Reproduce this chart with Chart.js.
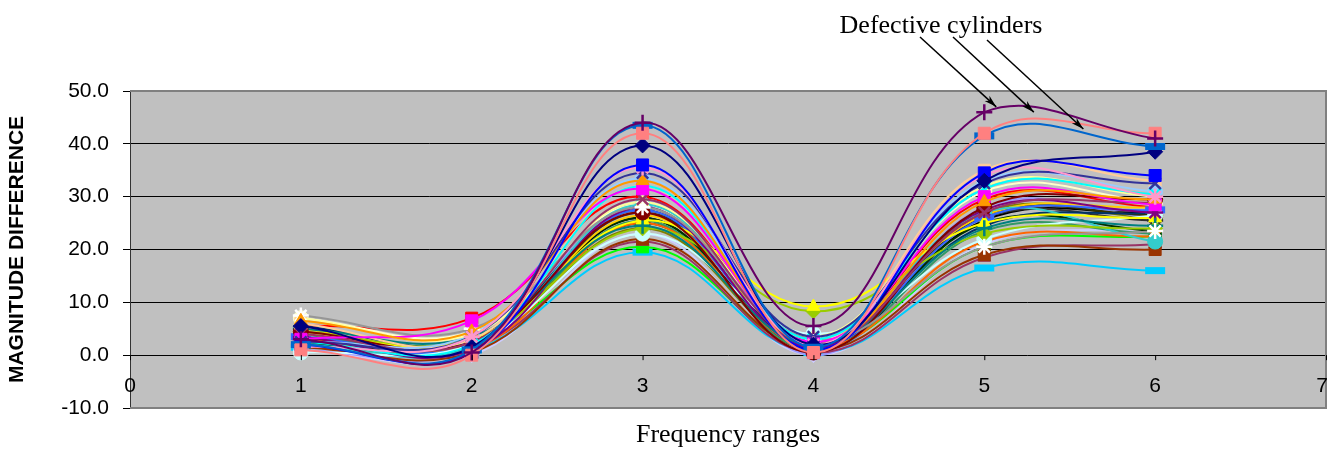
<!DOCTYPE html>
<html>
<head>
<meta charset="utf-8">
<script src="https://cdn.jsdelivr.net/npm/chart.js@4/dist/chart.umd.min.js"></script>
<style>
  html, body { margin: 0; padding: 0; background: #fff; }
  #wrap { width: 1335px; height: 451px; }
</style>
</head>
<body>
<div id="wrap"><canvas id="chart" width="1335" height="451"></canvas></div>
<script>
const xValues = [1, 2, 3, 4, 5, 6]
const xTickLabels = ['0', '1', '2', '3', '4', '5', '6', '7']
const yTicks = [-10, 0, 10, 20, 30, 40, 50]

// one row per cylinder, magnitude difference at frequency ranges 1..6
const seriesValues = [
  [3.0, 0.5, 44.0, 5.5, 46.0, 41.0],
  [1.0, 0.0, 42.0, 0.5, 42.0, 42.0],
  [2.0, 1.0, 43.5, 1.5, 41.5, 39.5],
  [5.5, 1.5, 39.7, 2.0, 33.0, 38.5],
  [2.0, 0.5, 36.0, 1.0, 34.5, 34.0],
  [1.5, 3.5, 35.5, 2.0, 34.0, 30.0],
  [2.5, 3.5, 34.5, 3.5, 32.5, 32.5],
  [6.5, 4.5, 33.0, 2.0, 29.0, 29.5],
  [3.0, 6.5, 31.5, 2.5, 30.0, 28.5],
  [2.5, 2.0, 32.0, 3.0, 31.5, 30.5],
  [4.0, 2.5, 29.5, 2.0, 27.0, 29.0],
  [7.5, 5.0, 28.0, 3.0, 20.5, 23.5],
  [7.0, 4.0, 29.0, 3.5, 32.0, 30.0],
  [2.5, 4.0, 33.5, 3.0, 33.0, 31.0],
  [6.0, 3.0, 32.0, 2.5, 35.0, 33.0],
  [4.5, 2.5, 27.0, 0.5, 28.0, 29.5],
  [5.0, 3.5, 24.5, 2.0, 24.0, 24.5],
  [3.5, 1.0, 28.0, 1.5, 27.5, 27.0],
  [4.0, 3.0, 25.5, 9.2, 25.0, 26.0],
  [4.5, 3.0, 24.0, 8.3, 23.0, 24.0],
  [0.5, 2.0, 23.0, 4.0, 22.0, 26.5],
  [3.5, 2.0, 27.5, 1.5, 26.0, 27.5],
  [2.0, 1.5, 28.5, 2.5, 27.0, 21.5],
  [5.0, 2.0, 26.5, 3.0, 26.5, 28.0],
  [3.0, 1.0, 25.0, 1.5, 21.5, 22.5],
  [5.5, 3.0, 27.5, 2.0, 24.5, 27.0],
  [4.0, 1.5, 25.5, 1.0, 23.5, 23.0],
  [2.0, 2.5, 26.0, 1.5, 25.0, 23.5],
  [3.0, 2.0, 25.0, 3.0, 26.5, 26.5],
  [1.5, 0.5, 22.0, 1.0, 19.0, 20.0],
  [4.5, 1.5, 21.5, 0.5, 18.5, 21.0],
  [3.0, 2.0, 27.0, 2.5, 26.0, 25.5],
  [1.0, 1.0, 29.5, 0.0, 28.0, 26.0],
  [7.0, 4.5, 28.5, 3.0, 31.0, 29.0],
  [3.0, 2.5, 20.5, 1.5, 20.5, 22.5],
  [5.5, 7.0, 30.0, 2.5, 29.5, 28.0],
  [1.5, 1.0, 19.5, 0.5, 16.5, 16.0],
  [1.0, 0.0, 23.0, 0.0, 21.0, 24.0],
  [2.5, 1.5, 26.0, 1.0, 25.5, 27.0],
  [4.0, 2.0, 24.0, 2.0, 27.0, 26.0]
]

const seriesColors = [
  '#660066', '#FF8080', '#0066CC', '#000080', '#0000FF', '#FF99CC', '#333399', '#FF9900',
  '#FF00FF', '#00FFFF', '#993366', '#969696', '#FFFF99', '#99CCFF', '#FFCC99', '#800000',
  '#008080', '#800080', '#FFFF00', '#99CC00', '#CCFFFF', '#3366FF', '#33CCCC', '#FFCC00',
  '#FF6600', '#003366', '#339966', '#003300', '#333300', '#993300', '#993366', '#333333',
  '#9999FF', '#FFFFCC', '#00FF00', '#FF0000', '#00CCFF', '#CCCCFF', '#000000', '#808000'
]

const seriesMarkers = [
  'cross', 'rect', 'line', 'rectRot', 'rect', 'star', 'crossRot', 'triangle',
  'rect', 'crossRot', 'crossRot', 'star', 'triangle', 'circle', 'rect', 'circle',
  'cross', 'star', 'triangle', 'rectRot', 'circle', 'line', 'circle', 'rect',
  'crossRot', 'rectRot', 'triangle', 'rect', 'circle', 'rect', 'triangle', 'star',
  'triangle', 'circle', 'rect', 'rect', 'line', 'rectRot', 'triangle', 'circle'
]

// marks each arrow points at, in data units
const arrowTargets = [[5.07, 47.0], [5.29, 46.0], [5.58, 42.8]]

function markerSize(style) {
  if (style === 'line') return { r: 10, w: 7 }
  if (style === 'cross' || style === 'crossRot' || style === 'star') return { r: 8, w: 2.5 }
  if (style === 'rect') return { r: 8.5, w: 1 }
  return { r: 7.5, w: 1 }
}

const datasets = seriesValues.map((vals, i) => {
  const style = seriesMarkers[i]
  const size = markerSize(style)
  const color = seriesColors[i]
  return {
    data: vals.map((v, j) => ({ x: xValues[j], y: v })),
    borderColor: color,
    backgroundColor: color,
    pointBorderColor: color === '#969696' ? '#FFFFFF' : color,
    pointBackgroundColor: color,
    pointStyle: style,
    pointRadius: size.r,
    pointBorderWidth: size.w,
    borderWidth: 2,
    tension: 0.4,
    fill: false
  }
})

const plotFrame = {
  id: 'plotFrame',
  beforeDraw(chart) {
    const { ctx, chartArea: a } = chart
    ctx.save()
    ctx.fillStyle = '#C0C0C0'
    ctx.fillRect(a.left, a.top, a.right - a.left, a.bottom - a.top)
    ctx.restore()
  },
  afterDraw(chart) {
    const { ctx, chartArea: a, scales } = chart
    const x = scales.x, y = scales.y
    ctx.save()
    // gray frame on top, right and bottom
    ctx.strokeStyle = '#808080'
    ctx.lineWidth = 2
    ctx.beginPath()
    ctx.moveTo(a.left, a.top)
    ctx.lineTo(a.right, a.top)
    ctx.lineTo(a.right, a.bottom)
    ctx.lineTo(a.left, a.bottom)
    ctx.stroke()

    // category axis crosses at zero
    const y0 = y.getPixelForValue(0)
    ctx.strokeStyle = '#000'
    ctx.lineWidth = 1
    ctx.fillStyle = '#000'
    ctx.font = '21px "Liberation Sans", Arial, sans-serif'
    ctx.textAlign = 'center'
    ctx.textBaseline = 'middle'
    xTickLabels.forEach((lab, i) => {
      const px = x.getPixelForValue(i)
      ctx.beginPath()
      ctx.moveTo(px + 0.5, y0)
      ctx.lineTo(px + 0.5, y0 + 5)
      ctx.stroke()
      ctx.fillText(lab, i === xTickLabels.length - 1 ? px - 4 : px, y0 + 31)
    })

    // annotation
    ctx.font = '26px "Liberation Serif", "Times New Roman", serif'
    ctx.textAlign = 'center'
    ctx.textBaseline = 'alphabetic'
    ctx.fillText('Defective cylinders', 941, 33)
    const tails = [[920, 37], [953, 37], [987, 40]]
    arrowTargets.forEach((t, i) => {
      const hx = x.getPixelForValue(t[0])
      const hy = y.getPixelForValue(t[1])
      const [tx, ty] = tails[i]
      const ang = Math.atan2(hy - ty, hx - tx)
      ctx.lineWidth = 1.5
      ctx.beginPath()
      ctx.moveTo(tx, ty)
      ctx.lineTo(hx, hy)
      ctx.stroke()
      ctx.beginPath()
      ctx.moveTo(hx, hy)
      ctx.lineTo(hx - 13 * Math.cos(ang - 0.28), hy - 13 * Math.sin(ang - 0.28))
      ctx.lineTo(hx - 9 * Math.cos(ang), hy - 9 * Math.sin(ang))
      ctx.lineTo(hx - 13 * Math.cos(ang + 0.28), hy - 13 * Math.sin(ang + 0.28))
      ctx.closePath()
      ctx.fill()
    })
    ctx.restore()
  }
}

new Chart(document.getElementById('chart').getContext('2d'), {
  type: 'line',
  data: { datasets },
  options: {
    responsive: false,
    animation: false,
    layout: { autoPadding: false, padding: { top: 91, right: 9, bottom: 0, left: 0 } },
    plugins: { legend: { display: false }, tooltip: { enabled: false } },
    scales: {
      x: {
        type: 'linear',
        min: 0,
        max: 7,
        grid: { display: false },
        border: { display: false },
        ticks: { display: false },
        title: {
          display: true,
          text: 'Frequency ranges',
          color: '#000',
          font: { family: '"Liberation Serif", "Times New Roman", serif', size: 26 },
          padding: { top: 0, bottom: 0 }
        },
        afterFit(scale) { scale.height = 43 }
      },
      y: {
        min: -10,
        max: 50,
        afterBuildTicks(scale) { scale.ticks = yTicks.map(v => ({ value: v })) },
        ticks: {
          color: '#000',
          padding: 14,
          font: { family: '"Liberation Sans", Arial, sans-serif', size: 21 },
          callback: v => v.toFixed(1)
        },
        grid: { color: '#000', lineWidth: 1, tickLength: 7, drawTicks: true },
        border: { display: true, color: '#333', width: 1 },
        title: {
          display: true,
          text: 'MAGNITUDE DIFFERENCE',
          color: '#000',
          font: { family: '"Liberation Sans", Arial, sans-serif', size: 21, weight: 'bold' },
          padding: { top: 5, bottom: 0 }
        },
        afterFit(scale) { scale.width = 130 }
      }
    }
  },
  plugins: [plotFrame]
})
</script>
</body>
</html>
